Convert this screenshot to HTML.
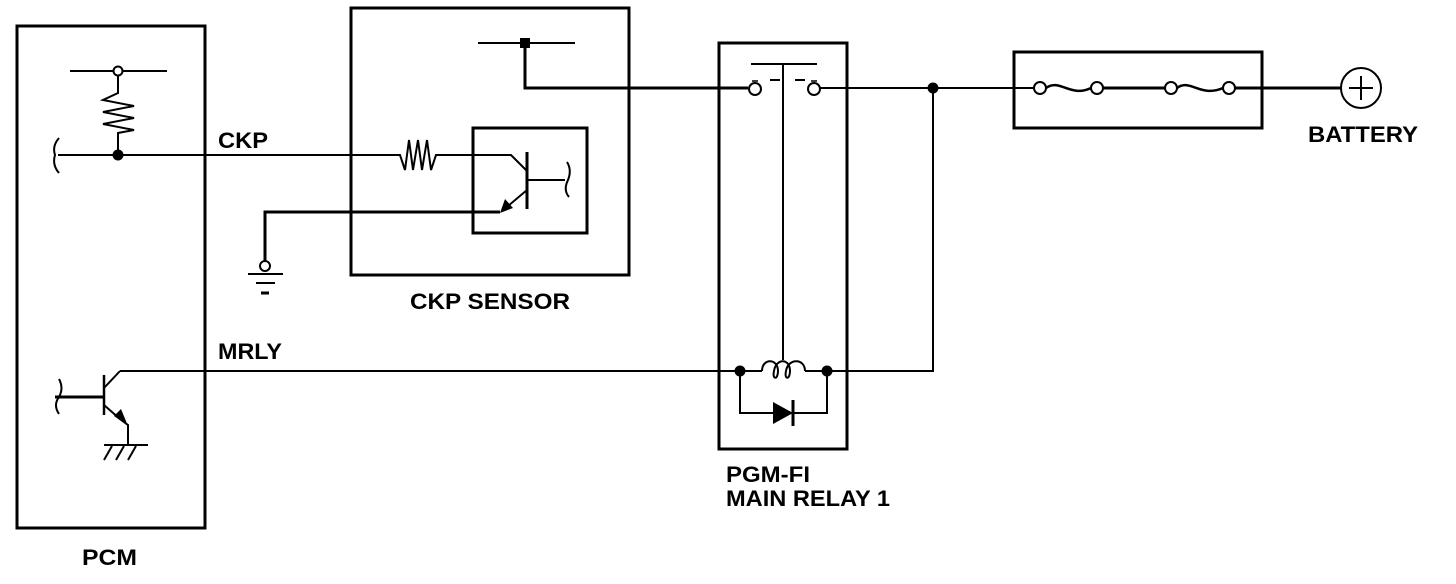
<!DOCTYPE html>
<html><head><style>html,body{margin:0;padding:0;background:#fff}svg{display:block}text{font-family:"Liberation Sans",sans-serif;font-weight:bold;font-size:22px;fill:#000}</style></head>
<body>
<svg width="1456" height="584" viewBox="0 0 1456 584" xmlns="http://www.w3.org/2000/svg">
<g fill="none" stroke="#000" stroke-width="2">
<!-- PCM -->
<rect x="17" y="26" width="188" height="502" stroke-width="3"/>
<line x1="70" y1="71" x2="167" y2="71"/>
<circle cx="118" cy="71" r="4.5" fill="#fff"/>
<polyline points="118,76 118,93 103,100 134,106 103,112 134,118 103,124 134,130 118,133 118,155"/>
<line x1="58" y1="155" x2="350" y2="155"/>
<path d="M59,138 Q52,146 55,155 Q52,165 59,173"/>
<!-- CKP sensor -->
<rect x="351" y="8" width="278" height="267" stroke-width="3"/>
<line x1="478" y1="43" x2="575" y2="43"/>
<polyline points="525,43 525,88 748,88" stroke-width="3"/>
<polyline points="350,155 400,155 405,170 409,140 413,170 418,140 422,170 427,140 431,170 436,155 511,155 527,171"/>
<rect x="473" y="128" width="114" height="105" stroke-width="3"/>
<line x1="527" y1="152" x2="527" y2="209" stroke-width="3"/>
<line x1="527" y1="180" x2="565" y2="180"/>
<path d="M567,162 Q572,170 568,180 Q563,190 569,197"/>
<line x1="527" y1="190" x2="508" y2="206"/>
<polyline points="500,212 265,212 265,261" stroke-width="3"/>
<circle cx="265" cy="266" r="5" fill="#fff"/>
<line x1="248" y1="274" x2="283" y2="274"/>
<line x1="256" y1="283" x2="275" y2="283"/>
<line x1="261" y1="293" x2="269" y2="293" stroke-width="3"/>
<!-- PCM transistor -->
<line x1="120" y1="371" x2="740" y2="371"/>
<line x1="104" y1="375" x2="104" y2="415" stroke-width="2.5"/>
<line x1="55" y1="397" x2="104" y2="397" stroke-width="3"/>
<path d="M59,379 Q64,388 59,397 Q53,405 59,414"/>
<line x1="104" y1="388" x2="120" y2="371"/>
<line x1="104" y1="405" x2="120" y2="419"/>
<polyline points="120,419 128,425 128,445"/>
<line x1="104" y1="445" x2="148" y2="445"/>
<line x1="112" y1="446" x2="104" y2="460"/>
<line x1="124" y1="446" x2="116" y2="460"/>
<line x1="136" y1="446" x2="128" y2="460"/>
<!-- Relay -->
<rect x="719" y="43" width="128" height="406" stroke-width="3"/>
<line x1="751" y1="64" x2="817" y2="64"/>
<line x1="783" y1="64" x2="783" y2="360"/>
<line x1="770" y1="80" x2="780" y2="80"/>
<line x1="795" y1="80" x2="805" y2="80"/>
<circle cx="755" cy="89" r="6" fill="#fff"/>
<circle cx="814" cy="89" r="6" fill="#fff"/>
<line x1="752" y1="81" x2="758" y2="81" stroke-width="1.5"/>
<line x1="811" y1="81" x2="817" y2="81" stroke-width="1.5"/>
<line x1="820" y1="88" x2="1040" y2="88"/>
<polyline points="933,88 933,371 828,371"/>
<line x1="740" y1="371" x2="762" y2="371"/>
<path d="M762,371 C762,358 778,358 778,371 C778,380 772,380 774,371 C776,358 790,358 790,371 C790,380 784,380 786,371 C788,358 805,358 805,371"/>
<line x1="805" y1="371" x2="827" y2="371"/>
<polyline points="740,371 740,413 827,413 827,371"/>
<line x1="793" y1="400" x2="793" y2="426" stroke-width="3"/>
<!-- fuses -->
<rect x="1014" y="52" width="248" height="76" stroke-width="3"/>
<path d="M1046,88 C1060,78 1070,98 1091,88" stroke-width="2.5"/>
<line x1="1103" y1="88" x2="1165" y2="88" stroke-width="3"/>
<path d="M1177,88 C1190,78 1200,98 1223,88" stroke-width="2.5"/>
<line x1="1235" y1="88" x2="1341" y2="88" stroke-width="3"/>
<circle cx="1040" cy="88" r="6" fill="#fff"/>
<circle cx="1097" cy="88" r="6" fill="#fff"/>
<circle cx="1171" cy="88" r="6" fill="#fff"/>
<circle cx="1229" cy="88" r="6" fill="#fff"/>
<circle cx="1361" cy="88" r="20"/>
<line x1="1361" y1="76" x2="1361" y2="100"/>
<line x1="1349" y1="88" x2="1373" y2="88"/>
</g>
<g fill="#000">
<circle cx="118" cy="155" r="5.5"/>
<rect x="520" y="38" width="10" height="10"/>
<polygon points="500,213 505,199 513,208"/>
<polygon points="128,426 114,416 121,409"/>
<circle cx="933" cy="88" r="5.5"/>
<circle cx="740" cy="371" r="5.5"/>
<circle cx="827" cy="371" r="5.5"/>
<polygon points="773,402 773,424 793,413"/>
</g>
<text x="218" y="148" textLength="50" lengthAdjust="spacingAndGlyphs">CKP</text>
<text x="218" y="359" textLength="64" lengthAdjust="spacingAndGlyphs">MRLY</text>
<text x="410" y="309" textLength="160" lengthAdjust="spacingAndGlyphs">CKP SENSOR</text>
<text x="726" y="482" textLength="84" lengthAdjust="spacingAndGlyphs">PGM-FI</text>
<text x="726" y="506" textLength="164" lengthAdjust="spacingAndGlyphs">MAIN RELAY 1</text>
<text x="1308" y="142" textLength="110" lengthAdjust="spacingAndGlyphs">BATTERY</text>
<text x="82" y="565" textLength="55" lengthAdjust="spacingAndGlyphs">PCM</text>
</svg>
</body></html>
